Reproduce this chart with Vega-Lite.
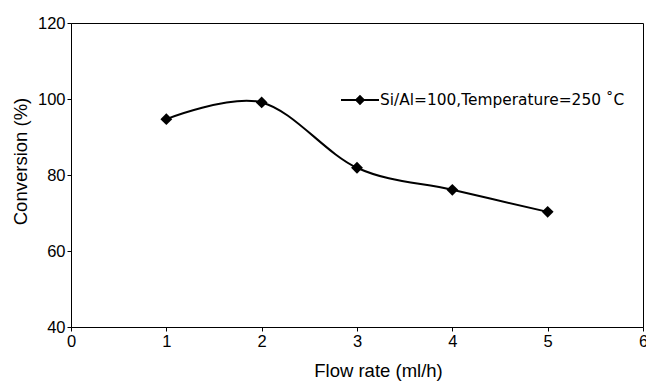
{
  "$schema": "https://vega.github.io/schema/vega-lite/v6.json",
  "width": 572,
  "height": 304,
  "autosize": {"type": "none"},
  "padding": {"left": 71, "top": 23, "right": 3, "bottom": 58},
  "background": "white",
  "config": {
    "view": {"stroke": "black", "strokeWidth": 1},
    "font": "Liberation Sans",
    "axis": {
      "domainColor": "black",
      "tickColor": "black",
      "labelColor": "black",
      "titleColor": "black",
      "grid": false,
      "labelFont": "Liberation Sans",
      "titleFont": "Liberation Sans",
      "labelFontSize": 16.5,
      "titleFontSize": 18.5,
      "titleFontWeight": "normal",
      "tickSize": 4,
      "labelPadding": 2,
      "labelFlush": false,
      "labelOverlap": false
    }
  },
  "data": {
    "values": [
      {"flow": 1, "conversion": 94.7, "series": "Si/Al=100,Temperature=250 ˚C"},
      {"flow": 2, "conversion": 99.1, "series": "Si/Al=100,Temperature=250 ˚C"},
      {"flow": 3, "conversion": 81.9, "series": "Si/Al=100,Temperature=250 ˚C"},
      {"flow": 4, "conversion": 76.1, "series": "Si/Al=100,Temperature=250 ˚C"},
      {"flow": 5, "conversion": 70.3, "series": "Si/Al=100,Temperature=250 ˚C"}
    ]
  },
  "encoding": {
    "x": {
      "field": "flow",
      "type": "quantitative",
      "scale": {"domain": [0, 6], "nice": false, "zero": false},
      "axis": {"values": [0, 1, 2, 3, 4, 5, 6], "title": "Flow rate (ml/h)", "titlePadding": 12, "titleX": 307}
    },
    "y": {
      "field": "conversion",
      "type": "quantitative",
      "scale": {"domain": [40, 120], "nice": false, "zero": false},
      "axis": {"values": [40, 60, 80, 100, 120], "title": "Conversion (%)", "titleY": 138, "titlePadding": 7}
    }
  },
  "layer": [
    {
      "mark": {"type": "line", "interpolate": "cardinal", "strokeWidth": 2},
      "encoding": {
        "color": {
          "field": "series",
          "type": "nominal",
          "scale": {"range": ["black"]},
          "legend": {
            "title": null,
            "orient": "none",
            "legendX": 269,
            "legendY": 57,
            "padding": 0,
            "symbolType": "M-1,0L1,0M-0.2,0L0,-0.2L0.2,0L0,0.2Z",
            "symbolSize": 1444,
            "symbolStrokeWidth": 2,
            "symbolFillColor": "black",
            "symbolStrokeColor": "black",
            "labelFont": "DejaVu Sans",
            "labelFontSize": 15.4,
            "labelColor": "black",
            "labelOffset": 0,
            "labelLimit": 400,
            "encode": {"symbols": {"update": {"fill": {"value": "black"}, "stroke": {"value": "black"}}}}
          }
        }
      }
    },
    {
      "mark": {"type": "point", "shape": "diamond", "filled": true, "size": 140, "color": "black", "opacity": 1}
    }
  ]
}
